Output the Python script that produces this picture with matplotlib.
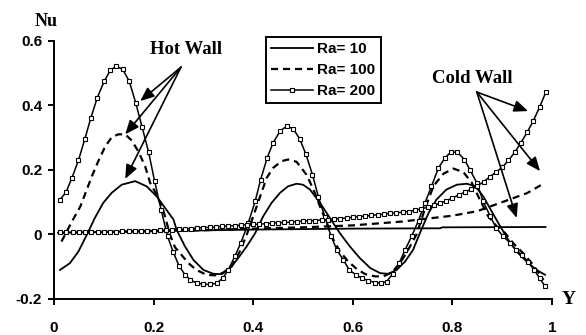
import numpy as np
import matplotlib
matplotlib.use("Agg")
import matplotlib.pyplot as plt

# ---- data: local Nusselt number along the walls ----
# hot wall, Ra = 200 (marked curve)
y_hot_200 = [0.012, 0.024, 0.036, 0.049, 0.062, 0.074, 0.087, 0.101, 0.113, 0.125,
             0.138, 0.151, 0.164, 0.177, 0.190, 0.202, 0.215, 0.228, 0.239, 0.251,
             0.263, 0.274, 0.287, 0.300, 0.313, 0.327, 0.339, 0.350, 0.363, 0.375,
             0.390, 0.404, 0.415, 0.428, 0.440, 0.454, 0.467, 0.480, 0.493, 0.506,
             0.519, 0.531, 0.544, 0.556, 0.568, 0.581, 0.593, 0.606, 0.618, 0.631,
             0.645, 0.656, 0.668, 0.680, 0.693, 0.705, 0.718, 0.732, 0.745, 0.758,
             0.772, 0.785, 0.797, 0.810, 0.824, 0.835, 0.849, 0.862, 0.876, 0.888,
             0.902, 0.916, 0.928, 0.939, 0.952, 0.964, 0.975, 0.986]
nu_hot_200 = [0.108, 0.130, 0.175, 0.229, 0.296, 0.361, 0.424, 0.475, 0.508, 0.521,
              0.511, 0.475, 0.408, 0.332, 0.255, 0.165, 0.077, -0.006, -0.053, -0.097,
              -0.125, -0.141, -0.151, -0.154, -0.155, -0.151, -0.135, -0.110, -0.068, -0.027,
              0.035, 0.103, 0.170, 0.237, 0.284, 0.320, 0.335, 0.328, 0.297, 0.248,
              0.185, 0.116, 0.054, -0.004, -0.048, -0.079, -0.110, -0.125, -0.135, -0.143,
              -0.149, -0.151, -0.146, -0.122, -0.089, -0.048, -0.006, 0.043, 0.098, 0.149,
              0.206, 0.237, 0.255, 0.255, 0.232, 0.201, 0.160, 0.102, 0.056, 0.020,
              -0.006, -0.027, -0.048, -0.063, -0.084, -0.110, -0.135, -0.161]

# hot wall, Ra = 100
y_hot_100 = [0.015, 0.036, 0.053, 0.076, 0.089, 0.103, 0.116, 0.129, 0.143, 0.156,
             0.169, 0.183, 0.193, 0.206, 0.219, 0.233, 0.243, 0.253, 0.270, 0.286,
             0.306, 0.327, 0.340, 0.357, 0.373, 0.387, 0.400, 0.414, 0.427, 0.440,
             0.457, 0.470, 0.487, 0.507, 0.521, 0.534, 0.548, 0.561, 0.574, 0.591,
             0.608, 0.625, 0.645, 0.661, 0.678, 0.695, 0.711, 0.728, 0.745, 0.762,
             0.782, 0.802, 0.822, 0.839, 0.855, 0.872, 0.889, 0.906, 0.922, 0.942,
             0.962, 0.983]
nu_hot_100 = [-0.022, 0.040, 0.087, 0.180, 0.227, 0.273, 0.301, 0.310, 0.310, 0.291,
              0.258, 0.211, 0.160, 0.123, 0.077, -0.001, -0.040, -0.058, -0.089, -0.110,
              -0.125, -0.127, -0.118, -0.099, -0.053, -0.001, 0.056, 0.118, 0.175, 0.206,
              0.227, 0.232, 0.225, 0.185, 0.139, 0.087, 0.035, -0.016, -0.053, -0.084,
              -0.107, -0.123, -0.130, -0.130, -0.118, -0.089, -0.048, 0.000, 0.080, 0.150,
              0.188, 0.204, 0.193, 0.160, 0.108, 0.056, 0.025, 0.004, -0.027, -0.058,
              -0.094, -0.141]

# hot wall, Ra = 10
y_hot_10 = [0.012, 0.032, 0.049, 0.066, 0.082, 0.099, 0.116, 0.136, 0.163, 0.186,
            0.206, 0.223, 0.240, 0.246, 0.263, 0.280, 0.300, 0.320, 0.337, 0.354,
            0.370, 0.387, 0.404, 0.420, 0.437, 0.454, 0.470, 0.487, 0.500, 0.514,
            0.534, 0.554, 0.574, 0.594, 0.614, 0.635, 0.655, 0.671, 0.688, 0.705,
            0.721, 0.735, 0.752, 0.768, 0.788, 0.809, 0.829, 0.846, 0.862, 0.879,
            0.896, 0.912, 0.929, 0.949, 0.969, 0.986]
nu_hot_10 = [-0.110, -0.089, -0.053, -0.001, 0.051, 0.098, 0.129, 0.154, 0.165, 0.149,
             0.118, 0.082, 0.046, 0.015, -0.037, -0.079, -0.110, -0.122, -0.123, -0.104,
             -0.073, -0.037, 0.004, 0.056, 0.098, 0.129, 0.149, 0.157, 0.154, 0.139,
             0.098, 0.051, 0.004, -0.037, -0.073, -0.104, -0.120, -0.122, -0.110, -0.084,
             -0.048, 0.005, 0.066, 0.108, 0.139, 0.154, 0.157, 0.149, 0.118, 0.071,
             0.025, -0.016, -0.053, -0.084, -0.110, -0.125]

# cold wall, Ra = 200 (marked curve)
y_cold_200 = np.arange(1, 80) / 80
nu_cold_200 = [0.006, 0.006, 0.007, 0.007, 0.007, 0.008, 0.008, 0.008, 0.009, 0.009,
               0.010, 0.010, 0.011, 0.011, 0.012, 0.012, 0.013, 0.014, 0.015, 0.016,
               0.017, 0.018, 0.020, 0.021, 0.022, 0.023, 0.025, 0.026, 0.027, 0.028,
               0.030, 0.031, 0.032, 0.033, 0.035, 0.036, 0.037, 0.038, 0.040, 0.041,
               0.042, 0.043, 0.045, 0.046, 0.048, 0.049, 0.051, 0.053, 0.055, 0.057,
               0.059, 0.061, 0.063, 0.065, 0.067, 0.069, 0.071, 0.075, 0.079, 0.084,
               0.090, 0.096, 0.104, 0.113, 0.122, 0.131, 0.140, 0.150, 0.163, 0.178,
               0.193, 0.208, 0.229, 0.254, 0.284, 0.316, 0.352, 0.394, 0.440]

# cold wall, Ra = 100
y_cold_100 = [0.012, 0.1, 0.2, 0.3, 0.4, 0.5, 0.6, 0.7, 0.75, 0.8, 0.85, 0.9, 0.95, 0.986]
nu_cold_100 = [0.005, 0.007, 0.010, 0.013, 0.018, 0.022, 0.028, 0.040, 0.049, 0.058,
               0.072, 0.100, 0.128, 0.160]

# cold wall, Ra = 10
y_cold_10 = [0.008, 0.2, 0.4, 0.6, 0.775, 0.78, 0.987]
nu_cold_10 = [0.005, 0.010, 0.015, 0.018, 0.019, 0.022, 0.023]

series_labels = ["Ra= 10", "Ra= 100", "Ra= 200"]
x_ticks = [0, 0.2, 0.4, 0.6, 0.8, 1.0]
x_tick_labels = ["0", "0.2", "0.4", "0.6", "0.8", "1"]
y_ticks = [-0.2, 0, 0.2, 0.4, 0.6]
y_tick_labels = ["-0.2", "0", "0.2", "0.4", "0.6"]

# ---- figure ----
SANS = "Liberation Sans"
SERIF = "Liberation Serif"

fig = plt.figure(figsize=(5.86, 3.35), dpi=100)
ax = fig.add_axes([54 / 586, 1 - 299 / 335, (552 - 54) / 586, (299 - 40.7) / 335])

lw = 1.3
dash = (3.2, 2.2)

ax.plot(y_hot_10, nu_hot_10, color="black", lw=lw, label=series_labels[0])
ax.plot(y_cold_10, nu_cold_10, color="black", lw=lw)

ax.plot(y_hot_100, nu_hot_100, color="black", lw=lw + 0.3, dashes=dash,
        label=series_labels[1])
ax.plot(y_cold_100, nu_cold_100, color="black", lw=lw + 0.3, dashes=dash)

mk = dict(color="black", lw=1.1, marker="s", markersize=3.4,
          markerfacecolor="white", markeredgecolor="black", markeredgewidth=0.8)
ax.plot(y_hot_200, nu_hot_200, label=series_labels[2], **mk)
ax.plot(y_cold_200, nu_cold_200, **mk)

ax.set_xlim(0, 1)
ax.set_ylim(-0.2, 0.6)
ax.set_xticks(x_ticks)
ax.set_xticklabels(x_tick_labels)
ax.set_yticks(y_ticks)
ax.set_yticklabels(y_tick_labels)

for side in ("top", "right"):
    ax.spines[side].set_visible(False)
for side in ("left", "bottom"):
    ax.spines[side].set_linewidth(1.4)
    ax.spines[side].set_color("black")

ax.tick_params(axis="both", direction="out", length=4.5, width=1.4, color="black")
ax.tick_params(axis="x", pad=11)
ax.tick_params(axis="y", pad=4)
for t in ax.get_xticklabels() + ax.get_yticklabels():
    t.set_fontfamily(SANS)
    t.set_fontweight("bold")
    t.set_fontsize(11)

# axis titles
fig.text(46 / 586, 1 - 21 / 335, "Nu", family=SERIF, weight="bold", fontsize=13,
         ha="center", va="center")
fig.text(569 / 586, 1 - 299 / 335, "Y", family=SERIF, weight="bold", fontsize=14,
         ha="center", va="center")

# wall annotations with arrows
arrow_style = dict(arrowstyle="-|>,head_length=0.6,head_width=0.25",
                   mutation_scale=14, lw=1.2, color="black",
                   shrinkA=0, shrinkB=0)

ax.text(0.265, 0.574, "Hot Wall", family=SERIF, weight="bold", fontsize=13.5,
        ha="center", va="center")
hot_src = (0.255, 0.518)
for tip in [(0.173, 0.413), (0.143, 0.31), (0.143, 0.172)]:
    ax.annotate("", xy=tip, xytext=hot_src, arrowprops=arrow_style)

ax.text(0.839, 0.4835, "Cold Wall", family=SERIF, weight="bold", fontsize=13.5,
        ha="center", va="center")
cold_src = (0.849, 0.441)
for tip in [(0.952, 0.382), (0.976, 0.196), (0.929, 0.051)]:
    ax.annotate("", xy=tip, xytext=cold_src, arrowprops=arrow_style)

# legend
leg = ax.legend(loc="upper left", bbox_to_anchor=(266 / 586, 1 - 37 / 335),
                bbox_transform=fig.transFigure, borderaxespad=0,
                fancybox=False, framealpha=1, edgecolor="black",
                prop=dict(family=SANS, weight="bold", size=11),
                handlelength=2.7, handletextpad=0.3, labelspacing=0.45,
                borderpad=0.35, numpoints=1)
leg.get_frame().set_linewidth(1.4)

fig.savefig("out.png", dpi=100)
